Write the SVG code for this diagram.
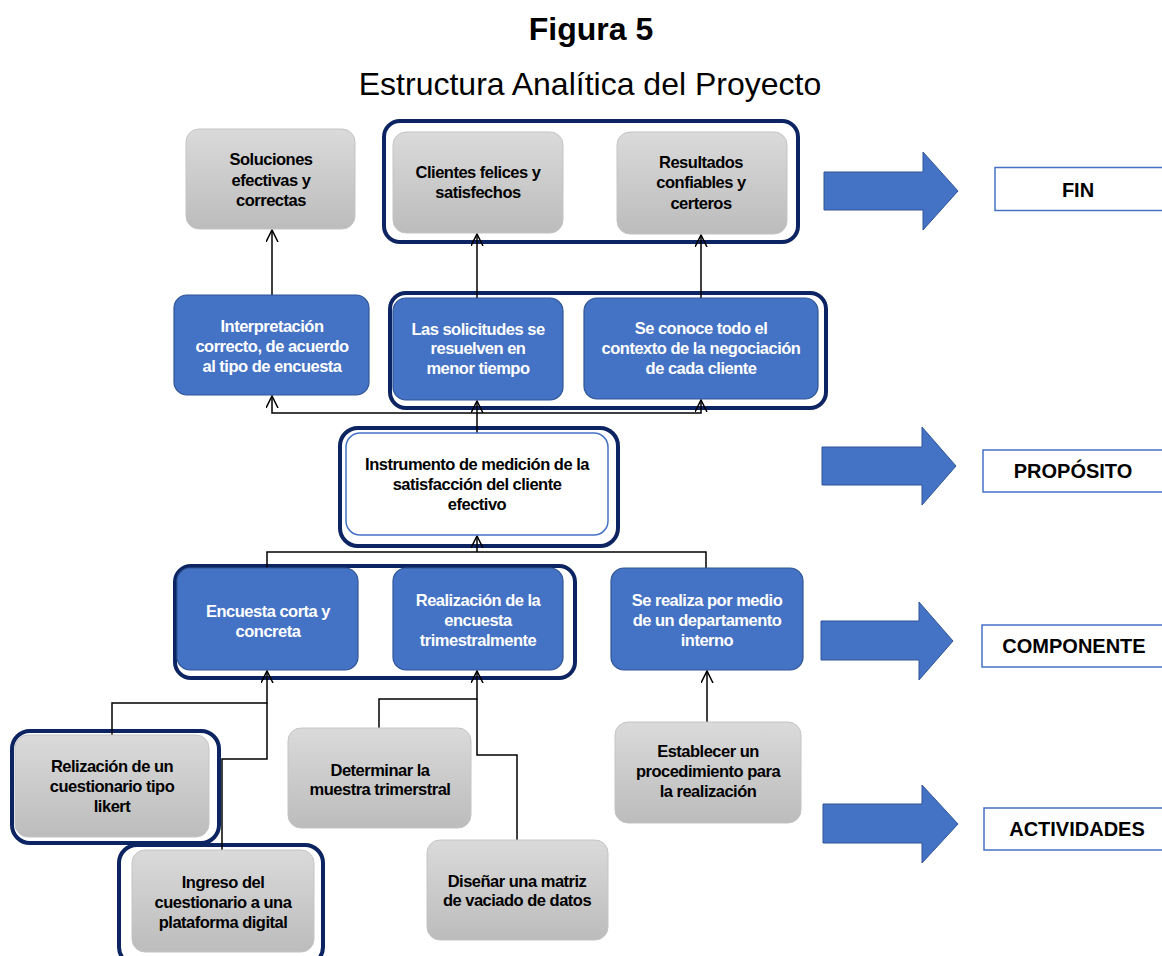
<svg xmlns="http://www.w3.org/2000/svg" width="1162" height="956" viewBox="0 0 1162 956">
<defs>
<linearGradient id="gray" x1="0" y1="0" x2="0" y2="1">
<stop offset="0" stop-color="#dadada"/>
<stop offset="1" stop-color="#bcbcbc"/>
</linearGradient>
<marker id="ah" markerUnits="userSpaceOnUse" markerWidth="14" markerHeight="14" refX="12" refY="6" orient="auto">
<path d="M0,0 L12,6 L0,12" fill="none" stroke="#000" stroke-width="1.5"/>
</marker>
</defs>
<style>
.title{font-family:"Liberation Sans",Arial,sans-serif;font-size:32px;fill:#000;text-anchor:middle}
.gray{fill:url(#gray);stroke:#c4c4c4;stroke-width:1}
.blue{fill:#4472c4;stroke:#2f5597;stroke-width:1.2}
.white{fill:#fff;stroke:#4472c4;stroke-width:1.5}
.grp{fill:none;stroke:#0c2461;stroke-width:4}
.t{font-family:"Liberation Sans",Arial,sans-serif;font-size:16.5px;font-weight:bold;letter-spacing:-0.5px;text-anchor:middle}
.tk{fill:#000}
.tw{fill:#fff}
.conn{fill:none;stroke:#000;stroke-width:1.5}
.barrow{fill:#4472c4;stroke:#2f5597;stroke-width:1}
.lbl{fill:#fff;stroke:#4472c4;stroke-width:1.5}
.lt{font-family:"Liberation Sans",Arial,sans-serif;font-size:20px;font-weight:bold;fill:#000;text-anchor:middle}
</style>
<rect width="1162" height="956" fill="#fff"/>
<text class="title" x="591" y="40" font-weight="bold">Figura 5</text>
<text class="title" x="590" y="95">Estructura Analítica del Proyecto</text>

<g id="groups">
<rect class="grp" x="384" y="121" width="414" height="121" rx="16"/>
<rect class="grp" x="390" y="293" width="436" height="115" rx="16"/>
<rect class="grp" x="340" y="428" width="278" height="118" rx="18"/>
<rect class="grp" x="175" y="566" width="400" height="112" rx="16"/>
<rect class="grp" x="12" y="731" width="207" height="112" rx="18"/>
<rect class="grp" x="119" y="845" width="204" height="120" rx="18"/>
</g>

<g id="connectors">
<path class="conn" d="M272 295 V230" marker-end="url(#ah)"/>
<path class="conn" d="M477 298 V234" marker-end="url(#ah)"/>
<path class="conn" d="M701 298 V235" marker-end="url(#ah)"/>
<path class="conn" d="M477 433 V401" marker-end="url(#ah)"/>
<path class="conn" d="M477 413 H272 V396" marker-end="url(#ah)"/>
<path class="conn" d="M477 413 H701 V400" marker-end="url(#ah)"/>
<path class="conn" d="M267 568 V552 H706 V568"/>
<path class="conn" d="M477 552 V536" marker-end="url(#ah)"/>
<path class="conn" d="M112 735 V703 H267 V671" marker-end="url(#ah)"/>
<path class="conn" d="M222 850 V759 H267 V703"/>
<path class="conn" d="M379 728 V699 H477 V671" marker-end="url(#ah)"/>
<path class="conn" d="M517 840 V755 H477 V699"/>
<path class="conn" d="M707 722 V671" marker-end="url(#ah)"/>
</g>

<g id="n-soluciones">
<rect class="gray" x="186" y="129" width="169" height="100" rx="13"/>
<text class="t tk" x="271" y="165">Soluciones</text>
<text class="t tk" x="271" y="186">efectivas y</text>
<text class="t tk" x="271" y="206">correctas</text>
</g>
<g id="n-clientes">
<rect class="gray" x="393" y="132" width="170" height="101" rx="13"/>
<text class="t tk" x="478" y="178">Clientes felices y</text>
<text class="t tk" x="478" y="198">satisfechos</text>
</g>
<g id="n-resultados">
<rect class="gray" x="617" y="132" width="170" height="102" rx="13"/>
<text class="t tk" x="701" y="168">Resultados</text>
<text class="t tk" x="701" y="188">confiables y</text>
<text class="t tk" x="701" y="209">certeros</text>
</g>
<g id="n-interpretacion">
<rect class="blue" x="174" y="295" width="195" height="100" rx="13"/>
<text class="t tw" x="272" y="332">Interpretación</text>
<text class="t tw" x="272" y="352">correcto, de acuerdo</text>
<text class="t tw" x="272" y="372">al tipo de encuesta</text>
</g>
<g id="n-solicitudes">
<rect class="blue" x="393" y="298" width="170" height="102" rx="13"/>
<text class="t tw" x="478" y="335">Las solicitudes se</text>
<text class="t tw" x="478" y="354">resuelven en</text>
<text class="t tw" x="478" y="374">menor tiempo</text>
</g>
<g id="n-conoce">
<rect class="blue" x="584" y="298" width="234" height="101" rx="13"/>
<text class="t tw" x="701" y="334">Se conoce todo el</text>
<text class="t tw" x="701" y="354">contexto de la negociación</text>
<text class="t tw" x="701" y="374">de cada cliente</text>
</g>
<g id="n-instrumento">
<rect class="white" x="346" y="433" width="262" height="102" rx="14"/>
<text class="t tk" x="477" y="470">Instrumento de medición de la</text>
<text class="t tk" x="477" y="490">satisfacción del cliente</text>
<text class="t tk" x="477" y="510">efectivo</text>
</g>
<g id="n-encuesta">
<rect class="blue" x="177" y="568" width="181" height="102" rx="13"/>
<text class="t tw" x="268" y="617">Encuesta corta y</text>
<text class="t tw" x="268" y="637">concreta</text>
</g>
<g id="n-realizacion">
<rect class="blue" x="393" y="568" width="170" height="102" rx="13"/>
<text class="t tw" x="478" y="606">Realización de la</text>
<text class="t tw" x="478" y="626">encuesta</text>
<text class="t tw" x="478" y="646">trimestralmente</text>
</g>
<g id="n-serealiza">
<rect class="blue" x="611" y="568" width="192" height="102" rx="13"/>
<text class="t tw" x="707" y="606">Se realiza por medio</text>
<text class="t tw" x="707" y="626">de un departamento</text>
<text class="t tw" x="707" y="646">interno</text>
</g>
<g id="n-relizacion">
<rect class="gray" x="15" y="735" width="194" height="102" rx="13"/>
<text class="t tk" x="112" y="772">Relización de un</text>
<text class="t tk" x="112" y="792">cuestionario tipo</text>
<text class="t tk" x="112" y="812">likert</text>
</g>
<g id="n-ingreso">
<rect class="gray" x="132" y="850" width="182" height="102" rx="13"/>
<text class="t tk" x="223" y="888">Ingreso del</text>
<text class="t tk" x="223" y="908">cuestionario a una</text>
<text class="t tk" x="223" y="928">plataforma digital</text>
</g>
<g id="n-determinar">
<rect class="gray" x="288" y="728" width="183" height="100" rx="13"/>
<text class="t tk" x="380" y="776">Determinar la</text>
<text class="t tk" x="380" y="795">muestra trimerstral</text>
</g>
<g id="n-disenar">
<rect class="gray" x="427" y="840" width="181" height="100" rx="13"/>
<text class="t tk" x="517" y="887">Diseñar una matriz</text>
<text class="t tk" x="517" y="906">de vaciado de datos</text>
</g>
<g id="n-establecer">
<rect class="gray" x="615" y="722" width="186" height="101" rx="13"/>
<text class="t tk" x="708" y="757">Establecer un</text>
<text class="t tk" x="708" y="777">procedimiento para</text>
<text class="t tk" x="708" y="797">la realización</text>
</g>

<g id="level-fin">
<polygon class="barrow" points="824,172 923,172 923,152 958,191 923,230 923,210 824,210"/>
<rect class="lbl" x="995" y="167.5" width="170" height="43"/>
<text class="lt" x="1078" y="197">FIN</text>
</g>
<g id="level-proposito">
<polygon class="barrow" points="822,447 922,447 922,427 956,466 922,505 922,485 822,485"/>
<rect class="lbl" x="983" y="450" width="182" height="42"/>
<text class="lt" x="1073" y="478">PROPÓSITO</text>
</g>
<g id="level-componente">
<polygon class="barrow" points="821,621 919,621 919,602 953,641 919,680 919,660 821,660"/>
<rect class="lbl" x="982" y="625" width="183" height="42"/>
<text class="lt" x="1074" y="653">COMPONENTE</text>
</g>
<g id="level-actividades">
<polygon class="barrow" points="823,804 922,804 922,785 958,824 922,863 922,843 823,843"/>
<rect class="lbl" x="984" y="808" width="181" height="42"/>
<text class="lt" x="1077" y="836">ACTIVIDADES</text>
</g>
</svg>
